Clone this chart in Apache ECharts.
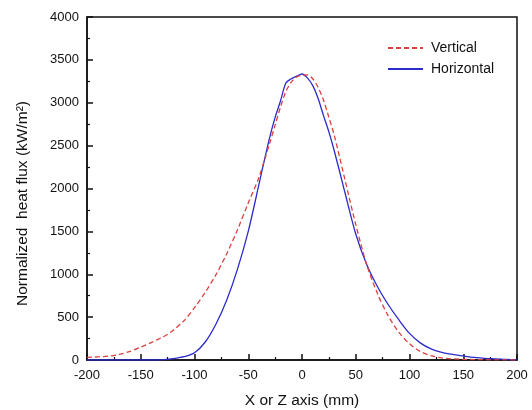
<!DOCTYPE html>
<html>
<head>
<meta charset="utf-8">
<script src="https://cdn.jsdelivr.net/npm/echarts@6/dist/echarts.min.js"></script>
<style>html,body{margin:0;padding:0;background:#fff}#c{width:532px;height:410px}</style>
</head>
<body>
<div id="c"></div>
<script>
var xValues = [-200,-190,-180,-170,-160,-150,-140,-130,-125,-120,-110,-100,-90,-80,-70,-60,-50,-40,-35,-30,-25,-20,-15,-10,-5,0,5,10,15,20,25,30,40,50,60,70,80,90,100,110,120,130,140,150,160,170,180,190,200];
var vertical = [30,37,45,65,100,150,205,265,300,345,455,610,790,995,1240,1520,1830,2130,2330,2530,2740,2950,3130,3240,3300,3320,3325,3280,3180,3030,2830,2620,2100,1580,1120,780,520,325,190,100,50,25,13,8,5,3,2,1,0];
var horizontal = [0,0,0,0,0,0,0,2,8,15,38,85,210,420,700,1060,1500,2050,2330,2600,2830,3020,3230,3280,3310,3335,3290,3200,3050,2850,2660,2440,1950,1470,1120,860,650,470,310,200,130,90,65,47,30,18,13,6,2];
var xTicks = [-200,-150,-100,-50,0,50,100,150,200];
var yTicks = [0,500,1000,1500,2000,2500,3000,3500,4000];

function pairs(ys){ return xValues.map(function(x,i){ return [x, ys[i]]; }); }

var chart = echarts.init(document.getElementById('c'));
var fontFam = '"Liberation Sans", Arial, sans-serif';
chart.setOption({
  animation: false,
  backgroundColor: '#fff',
  grid: { left: 87, right: 15, top: 17, bottom: 50, show: true, borderColor: '#111', borderWidth: 1.5, backgroundColor: 'transparent', outerBoundsMode: 'none', containLabel: false },
  legend: {
    orient: 'vertical', left: 382, top: 35, itemWidth: 35, itemHeight: 10, itemGap: 5,
    textStyle: { fontFamily: fontFam, fontSize: 14, lineHeight: 16, color: '#111', padding: [0, 0, 0, 3] },
    itemStyle: { opacity: 0 },
    data: ['Vertical', 'Horizontal']
  },
  xAxis: {
    type: 'value', min: xTicks[0], max: xTicks[xTicks.length-1], interval: 50,
    name: 'X or Z axis (mm)', nameLocation: 'middle', nameGap: 33,
    nameTextStyle: { fontFamily: fontFam, fontSize: 15.5, color: '#111' },
    axisLine: { show: true, onZero: false, lineStyle: { color: '#111', width: 1.5 } },
    axisTick: { show: true, inside: true, length: 6, lineStyle: { color: '#111', width: 1.5 } },
    minorTick: { show: true, splitNumber: 2, length: 3, lineStyle: { color: '#111', width: 1.2 } },
    axisLabel: { fontFamily: fontFam, fontSize: 13, color: '#111', margin: 9, formatter: function(v){ return String(v); } },
    splitLine: { show: false }
  },
  yAxis: {
    type: 'value', min: yTicks[0], max: yTicks[yTicks.length-1], interval: 500,
    name: 'Normalized  heat flux (kW/m²)', nameLocation: 'middle', nameGap: 56,
    nameTextStyle: { fontFamily: fontFam, fontSize: 15.5, color: '#111', padding: [0, 30, 0, 0] },
    axisLine: { show: true, onZero: false, lineStyle: { color: '#111', width: 1.5 } },
    axisTick: { show: true, inside: true, length: 6, lineStyle: { color: '#111', width: 1.5 } },
    minorTick: { show: true, splitNumber: 2, length: 3, lineStyle: { color: '#111', width: 1.2 } },
    axisLabel: { fontFamily: fontFam, fontSize: 13, color: '#111', margin: 8, formatter: function(v){ return String(v); } },
    splitLine: { show: false }
  },
  series: [
    { name: 'Vertical', type: 'line', symbol: 'none', smooth: 0.3, data: pairs(vertical),
      lineStyle: { color: '#dd4040', width: 1.3, type: [5, 3] }, itemStyle: { color: '#dd4040' }, z: 3 },
    { name: 'Horizontal', type: 'line', symbol: 'none', smooth: 0.3, data: pairs(horizontal),
      lineStyle: { color: '#2b2bcc', width: 1.3 }, itemStyle: { color: '#2b2bcc' }, z: 2 }
  ]
});
</script>
</body>
</html>
